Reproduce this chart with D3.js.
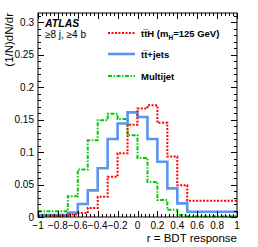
<!DOCTYPE html>
<html><head><meta charset="utf-8">
<script src="https://cdn.jsdelivr.net/npm/d3@7"></script>
<style>body{margin:0;background:#fff}svg{display:block}text{font-family:"Liberation Sans",Arial,sans-serif}</style>
</head><body>
<script>
const binEdges = [-1, -0.7, -0.6, -0.5, -0.4, -0.3, -0.2, -0.1, 0, 0.1, 0.2, 0.3, 0.4, 0.5, 1];
const ttH      = [0.002, 0.004, 0.006, 0.014, 0.031, 0.062, 0.098, 0.142, 0.167, 0.172, 0.145, 0.093, 0.049, 0.025];
const ttjets   = [0.003, 0.007, 0.020, 0.041, 0.075, 0.120, 0.144, 0.161, 0.154, 0.120, 0.085, 0.044, 0.021, 0.008];
const multijet = [0.009, 0.032, 0.073, 0.118, 0.149, 0.159, 0.151, 0.126, 0.091, 0.054, 0.026, 0.011, 0.003, 0.001];
const xTicks = [-1, -0.8, -0.6, -0.4, -0.2, 0, 0.2, 0.4, 0.6, 0.8, 1];
const yTicks = [0, 0.05, 0.1, 0.15, 0.2, 0.25, 0.3];
const legendLabels = ["ttH", "tt+jets", "Multijet"];

const W = 258, H = 247;
const L = 38, R = 237, T = 13, B = 217;
const svg = d3.select("body").append("svg").attr("width", W).attr("height", H);
const x = d3.scaleLinear().domain([-1, 1]).range([L, R]);
const y = d3.scaleLinear().domain([0, 0.314]).range([B, T]);

const series = [
  {vals: multijet, color: "#00cc00", width: 2, dash: "4,1.5,1.5,1.5"},
  {vals: ttjets, color: "#5b95f0", width: 2.6, dash: null},
  {vals: ttH, color: "#ff0000", width: 2, dash: "2,1.5"}
];
const line = d3.line().x(d => x(d[0])).y(d => y(d[1])).curve(d3.curveStepAfter);
series.forEach(s => {
  const pts = binEdges.map((e, i) => [e, i < s.vals.length ? s.vals[i] : s.vals[s.vals.length - 1]]);
  svg.append("path").attr("d", line(pts)).attr("fill", "none")
    .attr("stroke", s.color).attr("stroke-width", s.width)
    .attr("stroke-dasharray", s.dash);
});

// frame
svg.append("rect").attr("x", L).attr("y", T).attr("width", R - L).attr("height", B - T)
  .attr("fill", "none").attr("stroke", "#000").attr("stroke-width", 1);

// ticks
const tg = svg.append("g").attr("stroke", "#000").attr("stroke-width", 1);
d3.range(-1, 1.0001, 0.04).forEach(v => {
  const major = Math.abs(Math.round(v * 5) - v * 5) < 1e-6;
  const len = major ? 6 : 3;
  const xv = Math.round(x(v)) + 0.5;
  tg.append("line").attr("x1", xv).attr("x2", xv).attr("y1", B).attr("y2", B - len);
  tg.append("line").attr("x1", xv).attr("x2", xv).attr("y1", T).attr("y2", T + len);
});
d3.range(0, 0.314, 0.01).forEach(v => {
  const major = Math.abs(Math.round(v * 20) - v * 20) < 1e-6;
  const len = major ? 6 : 3;
  const yv = Math.round(y(v)) + 0.5;
  tg.append("line").attr("y1", yv).attr("y2", yv).attr("x1", L).attr("x2", L + len);
  tg.append("line").attr("y1", yv).attr("y2", yv).attr("x1", R).attr("x2", R - len);
});

// tick labels
xTicks.forEach(v => {
  svg.append("text").attr("x", x(v)).attr("y", 229).attr("text-anchor", "middle")
    .attr("font-size", 10).text(v === 0 ? "0" : d3.format("")(v).replace("-", "\u2212"));
});
yTicks.forEach(v => {
  svg.append("text").attr("x", 34).attr("y", y(v) + 3.5).attr("text-anchor", "end")
    .attr("font-size", 10).text(v === 0 ? "0" : String(v));
});

// axis titles
svg.append("text").attr("x", R).attr("y", 242).attr("text-anchor", "end")
  .attr("font-size", 11.5).text("r = BDT response");
svg.append("text").attr("transform", "translate(13," + T + ") rotate(-90)")
  .attr("text-anchor", "end").attr("font-size", 11.5).text("(1/N)dN/dr");

// ATLAS label
svg.append("text").attr("x", 45).attr("y", 27).attr("font-size", 10.5)
  .attr("font-weight", "bold").attr("font-style", "italic").text("ATLAS");
svg.append("text").attr("x", 45).attr("y", 38).attr("font-size", 10).text("\u22658 j, \u22654 b");

// legend
const legY = [33, 54, 76];
series.slice().reverse().forEach((s, i) => {
  svg.append("line").attr("x1", 108).attr("x2", 135).attr("y1", legY[i]).attr("y2", legY[i])
    .attr("stroke", s.color).attr("stroke-width", s.width).attr("stroke-dasharray", s.dash);
});
const lt = svg.append("g").attr("font-size", 9.5).attr("font-weight", "bold");
const t0 = lt.append("text").attr("x", 141).attr("y", legY[0] + 3.5);
t0.append("tspan").text("tt\u0305H (m");
t0.append("tspan").attr("font-size", 6.5).attr("dy", 3).text("H");
t0.append("tspan").attr("dy", -3).text("=125 GeV)");
lt.append("text").attr("x", 141).attr("y", legY[1] + 3.5).text("tt\u0305+jets");
lt.append("text").attr("x", 141).attr("y", legY[2] + 3.5).text(legendLabels[2]);
</script>
</body></html>
